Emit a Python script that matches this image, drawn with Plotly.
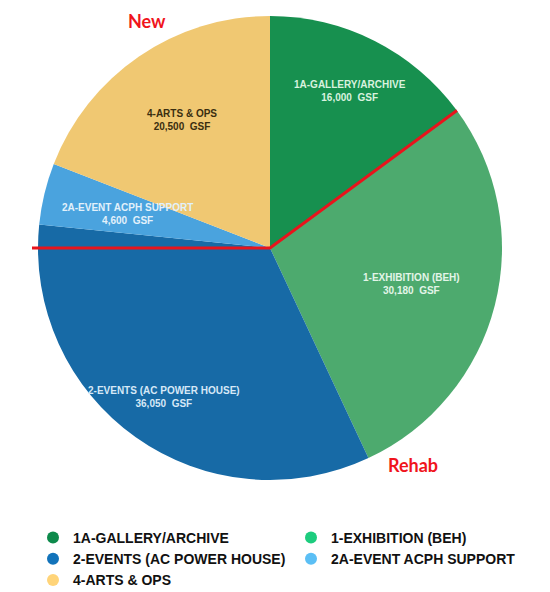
import math
import plotly.graph_objects as go

# ---- data ----
labels = ["1A-GALLERY/ARCHIVE", "1-EXHIBITION (BEH)", "2-EVENTS (AC POWER HOUSE)",
          "2A-EVENT ACPH SUPPORT", "4-ARTS & OPS"]
values = [16000, 30180, 36050, 4600, 20500]
value_text = ["16,000  GSF", "30,180  GSF", "36,050  GSF", "4,600  GSF", "20,500  GSF"]
slice_colors = ["#17904f", "#4daa6e", "#176aa6", "#4aa3de", "#f0c872"]
legend_colors = ["#0d8a4b", "#1dcc7e", "#1273ba", "#5bbff5", "#ffd479"]
text_colors = ["#d9f2df", "#e3f5e8", "#d6e8f7", "#e2f1fb", "#3a2e10"]
label_radius = [0.76, 0.63, 0.79, 0.63, 0.67]   # radial placement of slice labels (fraction of r)

W, H = 550, 592
cx_px, cy_px, r_px = 270, 248, 232
px = lambda x: x / W
py = lambda y: 1 - y / H

fig = go.Figure()
fig.add_trace(go.Pie(
    labels=labels, values=values,
    sort=False, direction="clockwise", rotation=0,
    marker=dict(colors=slice_colors, line=dict(width=0)),
    textinfo="none", showlegend=False, hoverinfo="label+value",
    domain=dict(x=[px(cx_px - r_px), px(cx_px + r_px)],
                y=[py(cy_px + r_px), py(cy_px - r_px)]),
))

for lab, col in zip(labels, legend_colors):
    fig.add_trace(go.Scatter(x=[None], y=[None], mode="markers", name=lab,
                             marker=dict(color=col, size=17, symbol="circle")))

# slice labels at each slice's mid angle
total = sum(values)
cum = 0
for lab, val, vt, tc, rf in zip(labels, values, value_text, text_colors, label_radius):
    mid = 2 * math.pi * (cum + val / 2) / total
    cum += val
    lx = cx_px + rf * r_px * math.sin(mid)
    ly = cy_px - rf * r_px * math.cos(mid)
    fig.add_annotation(x=px(lx), y=py(ly), xref="paper", yref="paper",
                       xanchor="center", yanchor="middle", showarrow=False,
                       text=f"<b>{lab}</b><br><b>{vt}</b>",
                       font=dict(family="Liberation Sans, Arial, sans-serif", size=10, color=tc))

# red divider following slice boundaries
theta = 2 * math.pi * values[0] / total
ex = cx_px + r_px * math.sin(theta)
ey = cy_px - r_px * math.cos(theta)
fig.add_shape(type="path", xref="paper", yref="paper",
              path=f"M {px(cx_px - r_px - 6)} {py(cy_px)} L {px(cx_px)} {py(cy_px)} L {px(ex)} {py(ey)}",
              line=dict(color="#e8141c", width=3, dash="solid"))

fig.add_annotation(x=px(147), y=py(21), xref="paper", yref="paper", text="<b>New</b>",
                   xanchor="center", yanchor="middle", showarrow=False,
                   font=dict(family="Lato", size=18, color="#f0141c"))
fig.add_annotation(x=px(413), y=py(465), xref="paper", yref="paper", text="<b>Rehab</b>",
                   xanchor="center", yanchor="middle", showarrow=False,
                   font=dict(family="Lato", size=18, color="#f0141c"))

fig.update_layout(
    width=W, height=H, margin=dict(l=0, r=0, t=0, b=0, autoexpand=False),
    paper_bgcolor="white", plot_bgcolor="white",
    xaxis=dict(visible=False), yaxis=dict(visible=False),
    legend=dict(orientation="h", x=px(33), y=py(522), xanchor="left", yanchor="top",
                entrywidth=213, entrywidthmode="pixels", tracegroupgap=0,
                font=dict(family="Liberation Sans, Arial, sans-serif", size=14,
                          color="#111111", weight="bold"),
                itemsizing="constant"),
)
fig.write_html("out.html")
